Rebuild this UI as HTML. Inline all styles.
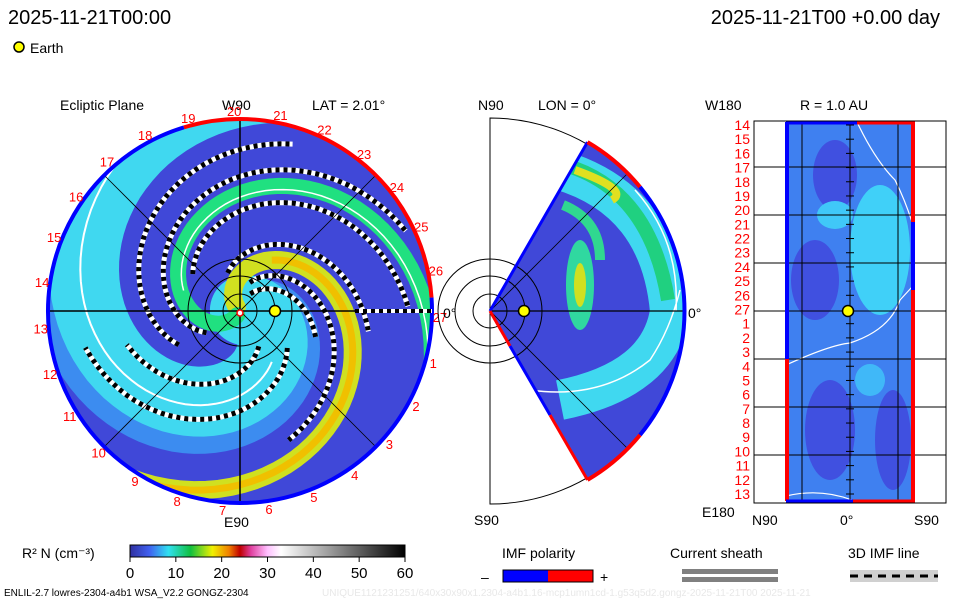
<!DOCTYPE html>
<html><head><meta charset="utf-8">
<style>
html,body{margin:0;padding:0;background:#fff;}
svg{display:block;font-family:"Liberation Sans","DejaVu Sans",sans-serif;}
.t{font-size:14px;fill:#000}
.r{font-size:13px;fill:#f00}
</style></head>
<body>
<svg id="c" width="960" height="600" viewBox="0 0 960 600">
<defs>
<linearGradient id="cb" x1="0" x2="1" y1="0" y2="0">
<stop offset="0" stop-color="#3030a0"/><stop offset="0.07" stop-color="#4060f0"/>
<stop offset="0.14" stop-color="#30e0f0"/><stop offset="0.22" stop-color="#10c040"/>
<stop offset="0.3" stop-color="#f0f000"/><stop offset="0.36" stop-color="#f08000"/>
<stop offset="0.4" stop-color="#c00000"/><stop offset="0.44" stop-color="#e040a0"/>
<stop offset="0.5" stop-color="#ffc0ff"/><stop offset="0.55" stop-color="#ffffff"/>
<stop offset="1" stop-color="#000000"/>
</linearGradient>
<clipPath id="disk"><circle cx="240" cy="311" r="192"/></clipPath>
<clipPath id="wedge"><path d="M490 311 L587.5 142.1 A195 195 0 0 1 587.5 479.9 Z"/></clipPath>
</defs>

<text x="8" y="24" style="font-size:20px">2025-11-21T00:00</text>
<text x="940" y="24" text-anchor="end" style="font-size:20px">2025-11-21T00 +0.00 day</text>
<circle cx="19" cy="47" r="5" fill="#ff0" stroke="#000" stroke-width="1.5"/>
<text x="30" y="53" class="t">Earth</text>

<text x="60" y="110" class="t">Ecliptic Plane</text>
<text x="222" y="110" class="t">W90</text>
<text x="312" y="110" class="t">LAT = 2.01°</text>
<text x="224" y="527" class="t">E90</text>

<g id="ecl" clip-path="url(#disk)">
<circle cx="240" cy="311" r="192" fill="#4048d8"/>
<g id="bands"></g>
</g>
<g id="eclover"></g>

<text x="478" y="110" class="t">N90</text>
<text x="538" y="110" class="t">LON = 0°</text>
<text x="474" y="525" class="t">S90</text>
<g id="mer"></g>

<text x="705" y="110" class="t">W180</text>
<text x="800" y="110" class="t">R = 1.0 AU</text>
<text x="702" y="517" class="t">E180</text>
<text x="752" y="525" class="t">N90</text>
<text x="840" y="525" class="t">0°</text>
<text x="914" y="525" class="t">S90</text>
<g id="rp"></g>

<text x="22" y="558" class="t">R² N (cm⁻³)</text>
<rect x="130" y="545" width="275" height="12" fill="url(#cb)" stroke="#000"/>
<g id="cbt"></g>

<text x="502" y="558" class="t">IMF polarity</text>
<text x="481" y="582" class="t">–</text>
<rect x="503" y="570" width="45" height="12" fill="#00f"/>
<rect x="548" y="570" width="45" height="12" fill="#f00"/>
<rect x="503" y="570" width="90" height="12" fill="none" stroke="#000"/>
<text x="600" y="582" class="t">+</text>
<text x="670" y="558" class="t">Current sheath</text>
<rect x="682" y="569" width="96" height="5" fill="#808080"/>
<rect x="682" y="577" width="96" height="5" fill="#808080"/>
<text x="848" y="558" class="t">3D IMF line</text>
<rect x="850" y="570" width="88" height="12" fill="#d0d0d0"/>
<line x1="850" y1="576" x2="938" y2="576" stroke="#000" stroke-width="3" stroke-dasharray="8 6"/>
<text x="4" y="596" style="font-size:10px">ENLIL-2.7 lowres-2304-a4b1 WSA_V2.2 GONGZ-2304</text>
<text x="322" y="596" style="font-size:10px;fill:#e8e8e8">UNIQUE1121231251/640x30x90x1.2304-a4b1.16-mcp1umn1cd-1.g53q5d2.gongz-2025-11-21T00  2025-11-21</text>
</svg>
<script>
const cbTicks=[0,10,20,30,40,50,60];
const cbMax=60;
const armPhases=[117,-136,-15,-60];
const armColors=["#20e080","#d0e020","#40d8f0","#3c8cf0"];
const armWidths=[16,18,70,40];
const dashPhases=[95,140,-110,-160,-40,10,60,-85];
const dashRanges=[[40,185],[60,170],[30,140],[40,130],[60,160],[40,120],[70,175],[20,80]];
const rimLabels=["19","20","21","22","23","24","25","26","27","1","2","3","4","5","6","7","8","9","10","11","12","13","14","15","16","17","18"];
const rpLabels=["14","15","16","17","18","19","20","21","22","23","24","25","26","27","1","2","3","4","5","6","7","8","9","10","11","12","13"];
const spiralK=1.3;
const NS="http://www.w3.org/2000/svg";
function mk(p,t,a){const e=document.createElementNS(NS,t);for(const k in a)e.setAttribute(k,a[k]);p.appendChild(e);return e;}
const cx=240,cy=311,R=192;
function spiral(phi,r0,r1){let pts=[];for(let r=r0;r<=r1;r+=3){const a=(phi+spiralK*r)*Math.PI/180;pts.push((cx+r*Math.cos(a)).toFixed(1)+","+(cy+r*Math.sin(a)).toFixed(1));}return pts.join(" ");}
const bands=document.getElementById("bands");
for(let i=armPhases.length-1;i>=0;i--){
 const e=mk(bands,"polyline",{points:spiral(armPhases[i],5,240),fill:"none",stroke:armColors[i],"stroke-width":armWidths[i],"stroke-linecap":"round"});
 
 
}
mk(bands,"polyline",{points:spiral(-136,60,240),fill:"none",stroke:"#f0c000","stroke-width":7});
mk(bands,"polyline",{points:spiral(-20,60,240),fill:"none",stroke:"#fff","stroke-width":2});
mk(bands,"polyline",{points:spiral(122,60,240),fill:"none",stroke:"#fff","stroke-width":1.5});
dashPhases.forEach((p,i)=>{
 const pts=spiral(p,dashRanges[i][0],dashRanges[i][1]);
 const a=mk(bands,"polyline",{points:pts,fill:"none",stroke:"#fff","stroke-width":5});
 
 
 mk(bands,"polyline",{points:pts,fill:"none",stroke:"#000","stroke-width":5,"stroke-dasharray":"4 4"});
});
const ov=document.getElementById("eclover");
[[cx-R,cy,cx+R,cy],[cx,cy-R,cx,cy+R]].forEach(l=>mk(ov,"line",{x1:l[0],y1:l[1],x2:l[2],y2:l[3],stroke:"#000","stroke-width":1.5}));
[45,135].forEach(d=>{const a=d*Math.PI/180;mk(ov,"line",{x1:cx-R*Math.cos(a),y1:cy-R*Math.sin(a),x2:cx+R*Math.cos(a),y2:cy+R*Math.sin(a),stroke:"#000","stroke-width":0.8});});
[17,35,52].forEach(r=>mk(ov,"circle",{cx:cx,cy:cy,r:r,fill:"none",stroke:"#000","stroke-width":1}));
function arc(r,a0,a1){const p=d=>[cx+r*Math.cos(d*Math.PI/180),cy+r*Math.sin(d*Math.PI/180)];const s=p(a0),e=p(a1);return `M${s[0]} ${s[1]} A${r} ${r} 0 ${a1-a0>180?1:0} 1 ${e[0]} ${e[1]}`;}
const rimR=mk(ov,"path",{d:arc(R,-107,-4),fill:"none",stroke:"#f00","stroke-width":4});


const rimB=mk(ov,"path",{d:arc(R,-4,253),fill:"none",stroke:"#00f","stroke-width":4});


mk(ov,"line",{x1:355,y1:311,x2:432,y2:311,stroke:"#fff","stroke-width":4});
mk(ov,"line",{x1:355,y1:311,x2:432,y2:311,stroke:"#000","stroke-width":4,"stroke-dasharray":"4 4"});
const earth=mk(ov,"circle",{cx:275,cy:311,r:5.5,fill:"#ff0",stroke:"#000","stroke-width":1.5});


mk(ov,"circle",{cx:240,cy:313,r:3,fill:"#fff",stroke:"#f00","stroke-width":1.5});
rimLabels.forEach((s,i)=>{const d=-105+i*360/27;const a=d*Math.PI/180;const t=mk(ov,"text",{x:cx+(R+8)*Math.cos(a),y:cy+(R+8)*Math.sin(a)+5,"text-anchor":"middle",class:"r"});t.textContent=s;
 
 });
const z=mk(ov,"text",{x:443,y:318,class:"t"});z.textContent="0°";
// meridional
const mer=document.getElementById("mer");
const mx=490,my=311,MR=195;
mk(mer,"path",{d:`M${mx} ${my-193} A193 193 0 0 1 ${mx} ${my+193} Z`,fill:"none",stroke:"#000","stroke-width":1});
const mg=mk(mer,"g",{"clip-path":"url(#wedge)"});
mk(mg,"rect",{x:490,y:110,width:200,height:400,fill:"#4048d8"});
mk(mg,"path",{d:"M560 170 Q660 200 670 311 Q660 380 560 400",fill:"none",stroke:"#40d8f0","stroke-width":40});
mk(mg,"path",{d:"M565 165 Q650 190 668 300",fill:"none",stroke:"#20d080","stroke-width":14});
mk(mg,"path",{d:"M575 170 Q630 190 612 200",fill:"none",stroke:"#e0e020","stroke-width":8});
mk(mg,"ellipse",{cx:580,cy:285,rx:14,ry:45,fill:"#30d8a0"});
mk(mg,"ellipse",{cx:580,cy:285,rx:6,ry:22,fill:"#d0e020"});
mk(mg,"path",{d:"M563 205 Q600 220 600 260",fill:"none",stroke:"#30d890","stroke-width":10});
mk(mg,"path",{d:"M530 390 Q600 400 650 360 Q670 330 680 290",fill:"none",stroke:"#fff","stroke-width":1.5});
mk(mg,"path",{d:"M635 190 Q680 240 676 311",fill:"none",stroke:"#fff","stroke-width":1.5});
mk(mer,"line",{x1:mx,y1:my,x2:mx+MR*Math.cos(-Math.PI/4),y2:my+MR*Math.sin(-Math.PI/4),stroke:"#000","stroke-width":0.8});
mk(mer,"line",{x1:mx,y1:my,x2:mx+MR*Math.cos(Math.PI/4),y2:my+MR*Math.sin(Math.PI/4),stroke:"#000","stroke-width":0.8});
mk(mer,"line",{x1:mx,y1:my,x2:mx+MR,y2:my,stroke:"#000","stroke-width":1.2});
[17,35,52].forEach(r=>mk(mer,"circle",{cx:mx,cy:my,r:r,fill:"none",stroke:"#000","stroke-width":1}));
mk(mer,"line",{x1:mx,y1:my,x2:mx+97.5,y2:my-168.9,stroke:"#00f","stroke-width":3});
mk(mer,"path",{d:`M${mx+97.5} ${my-168.9} A${MR} ${MR} 0 0 1 ${mx+150} ${my-124}`,fill:"none",stroke:"#f00","stroke-width":4});
mk(mer,"path",{d:`M${mx+150} ${my-124} A${MR} ${MR} 0 0 1 ${mx+150} ${my+124}`,fill:"none",stroke:"#00f","stroke-width":4});
mk(mer,"path",{d:`M${mx+150} ${my+124} A${MR} ${MR} 0 0 1 ${mx+97.5} ${my+168.9}`,fill:"none",stroke:"#f00","stroke-width":4});
mk(mer,"line",{x1:mx,y1:my,x2:mx+20,y2:my+35,stroke:"#f00","stroke-width":3});
mk(mer,"line",{x1:mx+20,y1:my+35,x2:mx+60,y2:my+104,stroke:"#00f","stroke-width":3});
mk(mer,"line",{x1:mx+60,y1:my+104,x2:mx+97.5,y2:my+168.9,stroke:"#f00","stroke-width":3});
mk(mer,"circle",{cx:524,cy:311,r:5.5,fill:"#ff0",stroke:"#000","stroke-width":1.5});
const z2=mk(mer,"text",{x:688,y:318,class:"t"});z2.textContent="0°";
// right panel
const rp=document.getElementById("rp");
const bx=754,by=121,bw=192,bh=382;
mk(rp,"rect",{x:bx,y:by,width:bw,height:bh,fill:"#fff",stroke:"#000"});
mk(rp,"rect",{x:786,y:122,width:129,height:379,fill:"#3f80f0"});
mk(rp,"ellipse",{cx:835,cy:175,rx:22,ry:35,fill:"#4050e0"});
mk(rp,"ellipse",{cx:880,cy:250,rx:30,ry:65,fill:"#40d0f8"});
mk(rp,"ellipse",{cx:835,cy:215,rx:18,ry:14,fill:"#40c8f8"});
mk(rp,"ellipse",{cx:815,cy:280,rx:24,ry:40,fill:"#4050e0"});
mk(rp,"ellipse",{cx:830,cy:430,rx:25,ry:50,fill:"#4050e0"});
mk(rp,"ellipse",{cx:893,cy:440,rx:18,ry:50,fill:"#4050e0"});
mk(rp,"ellipse",{cx:870,cy:380,rx:15,ry:16,fill:"#40b8f8"});
mk(rp,"path",{d:"M786 365 Q830 345 850 343 Q890 330 900 300 L912 287",fill:"none",stroke:"#fff","stroke-width":1.2});
mk(rp,"path",{d:"M857 122 Q875 160 895 180 Q905 200 912 222",fill:"none",stroke:"#fff","stroke-width":1.2});
mk(rp,"path",{d:"M786 496 Q820 488 852 500",fill:"none",stroke:"#fff","stroke-width":1.2});
[802,850,898].forEach(x=>mk(rp,"line",{x1:x,y1:by,x2:x,y2:by+bh,stroke:"#000"}));
[167,215,263,311,359,407,455].forEach(y=>mk(rp,"line",{x1:bx,y1:y,x2:bx+bw,y2:y,stroke:"#000"}));
rpLabels.forEach((s,i)=>{const y=125+i*(369/26);
 mk(rp,"line",{x1:846,y1:y,x2:854,y2:y,stroke:"#000"});
 const t=mk(rp,"text",{x:750,y:y+5,"text-anchor":"end",class:"r",style:"font-size:14px"});t.textContent=s;
 
 });
mk(rp,"line",{x1:787,y1:122,x2:787,y2:359,stroke:"#00f","stroke-width":4});
mk(rp,"line",{x1:787,y1:359,x2:787,y2:501,stroke:"#f00","stroke-width":4});
mk(rp,"line",{x1:913,y1:122,x2:913,y2:222,stroke:"#f00","stroke-width":4});
mk(rp,"line",{x1:913,y1:222,x2:913,y2:290,stroke:"#00f","stroke-width":4});
mk(rp,"line",{x1:913,y1:290,x2:913,y2:501,stroke:"#f00","stroke-width":4});
mk(rp,"line",{x1:786,y1:123,x2:857,y2:123,stroke:"#00f","stroke-width":3});
mk(rp,"line",{x1:857,y1:123,x2:915,y2:123,stroke:"#f00","stroke-width":3});
mk(rp,"line",{x1:786,y1:501,x2:853,y2:501,stroke:"#00f","stroke-width":3});
mk(rp,"line",{x1:853,y1:501,x2:915,y2:501,stroke:"#f00","stroke-width":3});
mk(rp,"circle",{cx:848,cy:311,r:5.5,fill:"#ff0",stroke:"#000","stroke-width":1.5});
// colorbar ticks
const cbt=document.getElementById("cbt");
cbTicks.forEach(v=>{const x=130+v/cbMax*275;mk(cbt,"line",{x1:x,y1:557,x2:x,y2:562,stroke:"#000"});
 const t=mk(cbt,"text",{x:x,y:578,"text-anchor":"middle",class:"t",style:"font-size:15px"});t.textContent=v;
 
 });
</script>
</body></html>
